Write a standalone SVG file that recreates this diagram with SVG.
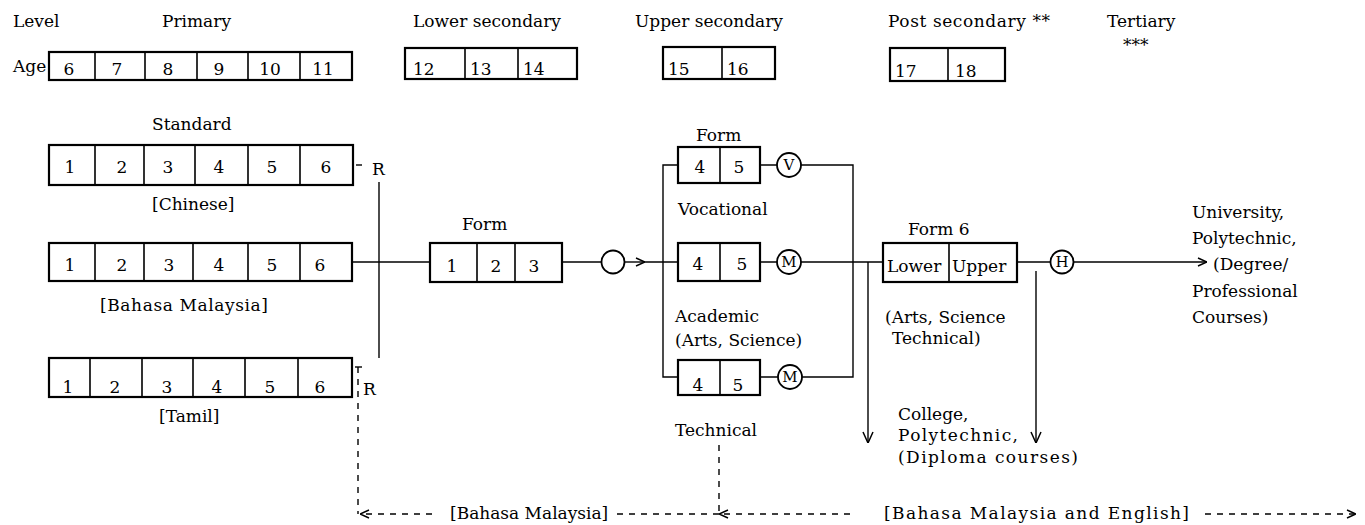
<svg xmlns="http://www.w3.org/2000/svg" width="1365" height="525" viewBox="0 0 1365 525">
<style>
text{font-family:"DejaVu Serif","Liberation Serif",serif;font-size:17px;fill:#000}
.n{text-anchor:middle}
.c{font-size:15px;text-anchor:middle}
.box{fill:#fff;stroke:#000;stroke-width:2.2}
.div{stroke:#000;stroke-width:1.6}
.ln{fill:none;stroke:#000;stroke-width:1.4}
.dash{fill:none;stroke:#000;stroke-width:1.4;stroke-dasharray:6 6}
.circ{fill:#fff;stroke:#000;stroke-width:1.8}
</style>
<defs>
<marker id="chev" viewBox="0 0 10 10" refX="10" refY="5" markerWidth="10" markerHeight="10" markerUnits="userSpaceOnUse" orient="auto">
<path d="M1,1 L10,5 L1,9" fill="none" stroke="#000" stroke-width="1.5"/>
</marker>
<marker id="chevL" viewBox="0 0 12 12" refX="12" refY="6" markerWidth="12" markerHeight="12" markerUnits="userSpaceOnUse" orient="auto">
<path d="M1,1 L12,6 L1,11" fill="none" stroke="#000" stroke-width="1.5"/>
</marker>
</defs>

<g id="header">
<text x="13" y="27">Level</text>
<text x="162" y="27">Primary</text>
<text x="413" y="27">Lower secondary</text>
<text x="635" y="27">Upper secondary</text>
<text x="888" y="27" textLength="162">Post secondary **</text>
<text x="1107" y="27">Tertiary</text>
<text x="1123" y="51">***</text>
<text x="13" y="72">Age</text>
</g>

<g id="age-primary">
<rect class="box" x="49" y="52" width="303" height="28"/>
<path class="div" d="M95,52V80M145,52V80M197,52V80M248,52V80M300,52V80"/>
<text class="n" x="69" y="75">6</text><text class="n" x="117" y="75">7</text><text class="n" x="168" y="75">8</text><text class="n" x="219" y="75">9</text><text class="n" x="270" y="75">10</text><text class="n" x="323" y="75">11</text>
</g>
<g id="age-lower">
<rect class="box" x="405" y="48" width="172" height="31"/>
<path class="div" d="M465,48V79M518,48V79"/>
<text x="413" y="75">12</text><text x="470" y="75">13</text><text x="523" y="75">14</text>
</g>
<g id="age-upper">
<rect class="box" x="663" y="47" width="112" height="32"/>
<path class="div" d="M722,47V79"/>
<text x="668" y="75">15</text><text x="727" y="75">16</text>
</g>
<g id="age-post">
<rect class="box" x="890" y="48" width="115" height="33"/>
<path class="div" d="M948,48V81"/>
<text x="895" y="77">17</text><text x="955" y="77">18</text>
</g>

<g id="std-chinese">
<text x="152" y="130">Standard</text>
<rect class="box" x="49" y="145" width="304" height="40"/>
<path class="div" d="M95,145V185M144,145V185M195,145V185M248,145V185M300,145V185"/>
<text class="n" x="70" y="173">1</text><text class="n" x="122" y="173">2</text><text class="n" x="168" y="173">3</text><text class="n" x="219" y="173">4</text><text class="n" x="272" y="173">5</text><text class="n" x="326" y="173">6</text>
<text x="152" y="210">[Chinese]</text>
<text x="372" y="175">R</text>
</g>

<g id="std-malay">
<rect class="box" x="49" y="243" width="303" height="38"/>
<path class="div" d="M95,243V281M144,243V281M193,243V281M248,243V281M300,243V281"/>
<text class="n" x="70" y="271">1</text><text class="n" x="122" y="271">2</text><text class="n" x="169" y="271">3</text><text class="n" x="219" y="271">4</text><text class="n" x="272" y="271">5</text><text class="n" x="320" y="271">6</text>
<text x="100" y="311" textLength="168">[Bahasa Malaysia]</text>
</g>

<g id="std-tamil">
<rect class="box" x="49" y="358" width="303" height="39"/>
<path class="div" d="M90,358V397M142,358V397M193,358V397M245,358V397M298,358V397"/>
<text class="n" x="68" y="393">1</text><text class="n" x="115" y="393">2</text><text class="n" x="167" y="393">3</text><text class="n" x="217" y="393">4</text><text class="n" x="270" y="393">5</text><text class="n" x="320" y="393">6</text>
<text x="159" y="422">[Tamil]</text>
<text x="363" y="395">R</text>
</g>

<g id="form-lower">
<text x="462" y="230">Form</text>
<rect class="box" x="430" y="243" width="132" height="39"/>
<path class="div" d="M477,243V282M515,243V282"/>
<text class="n" x="452" y="272">1</text><text class="n" x="496" y="272">2</text><text class="n" x="534" y="272">3</text>
</g>

<g id="exam-o">
<circle class="circ" cx="613" cy="262" r="11.5" stroke-width="2.4"/>
</g>

<g id="form-vocational">
<text x="696" y="141">Form</text>
<rect class="box" x="678" y="147" width="82" height="36"/>
<path class="div" d="M720,147V183"/>
<text class="n" x="700" y="173">4</text><text class="n" x="739" y="173">5</text>
<text x="678" y="215">Vocational</text>
</g>
<g id="exam-v">
<circle class="circ" cx="789" cy="165" r="12"/>
<text class="c" x="789" y="170">V</text>
</g>

<g id="form-middle">
<rect class="box" x="678" y="243" width="82" height="38"/>
<path class="div" d="M720,243V281"/>
<text class="n" x="698" y="270">4</text><text class="n" x="742" y="270">5</text>
</g>
<g id="exam-m1">
<circle class="circ" cx="789" cy="262" r="12"/>
<text class="c" x="789" y="267">M</text>
</g>

<g id="form-academic">
<text x="675" y="322">Academic</text>
<text x="675" y="346">(Arts, Science)</text>
<rect class="box" x="678" y="360" width="82" height="35"/>
<path class="div" d="M720,360V395"/>
<text class="n" x="698" y="391">4</text><text class="n" x="738" y="391">5</text>
<text x="675" y="436">Technical</text>
</g>
<g id="exam-m2">
<circle class="circ" cx="790" cy="377" r="12"/>
<text class="c" x="790" y="382">M</text>
</g>

<g id="form6">
<text x="908" y="235">Form 6</text>
<rect class="box" x="883" y="243" width="134" height="39"/>
<path class="div" d="M949,243V282"/>
<text x="887" y="272">Lower</text>
<text x="952" y="272">Upper</text>
<text x="885" y="323">(Arts, Science</text>
<text x="892" y="344">Technical)</text>
</g>
<g id="exam-h">
<circle class="circ" cx="1062" cy="262" r="11.5"/>
<text class="c" x="1062" y="267">H</text>
</g>

<g id="college">
<text x="898" y="420">College,</text>
<text x="898" y="441" textLength="120">Polytechnic,</text>
<text x="898" y="463" textLength="180">(Diploma courses)</text>
</g>

<g id="university">
<text x="1192" y="218">University,</text>
<text x="1192" y="244">Polytechnic,</text>
<text x="1213" y="270">(Degree/</text>
<text x="1192" y="297">Professional</text>
<text x="1192" y="323">Courses)</text>
</g>

<g id="medium">
<text x="450" y="519">[Bahasa Malaysia]</text>
<text x="884" y="519" textLength="305">[Bahasa Malaysia and English]</text>
</g>

<g id="connectors">
<path class="ln" d="M356,165H362"/>
<path class="ln" d="M379,182V358"/>
<path class="ln" d="M352,262H430"/>
<path class="ln" d="M562,262H601.5"/>
<path class="ln" d="M624.5,262H645" marker-end="url(#chev)"/>
<path class="ln" d="M645,262H678"/>
<path class="ln" d="M678,165H663V377H678"/>
<path class="ln" d="M760,165H777M801,165H853V377H802M760,377H778"/>
<path class="ln" d="M760,262H777M801,262H883"/>
<path class="ln" d="M868,262V443" marker-end="url(#chevL)"/>
<path class="ln" d="M1017,262H1050.5"/>
<path class="ln" d="M1073.5,262H1207" marker-end="url(#chev)"/>
<path class="ln" d="M1036,271V443" marker-end="url(#chevL)"/>
<path class="ln" d="M355,367H362"/>
<path class="dash" d="M358,367V514"/>
<path class="dash" d="M432,514H360" marker-end="url(#chev)"/>
<path class="dash" d="M850,514H719" marker-end="url(#chev)"/>
<path class="dash" d="M719,514H615"/>
<path class="dash" d="M719,445V514"/>
<path class="dash" d="M1205,514H1356" marker-end="url(#chev)"/>
</g>
</svg>
